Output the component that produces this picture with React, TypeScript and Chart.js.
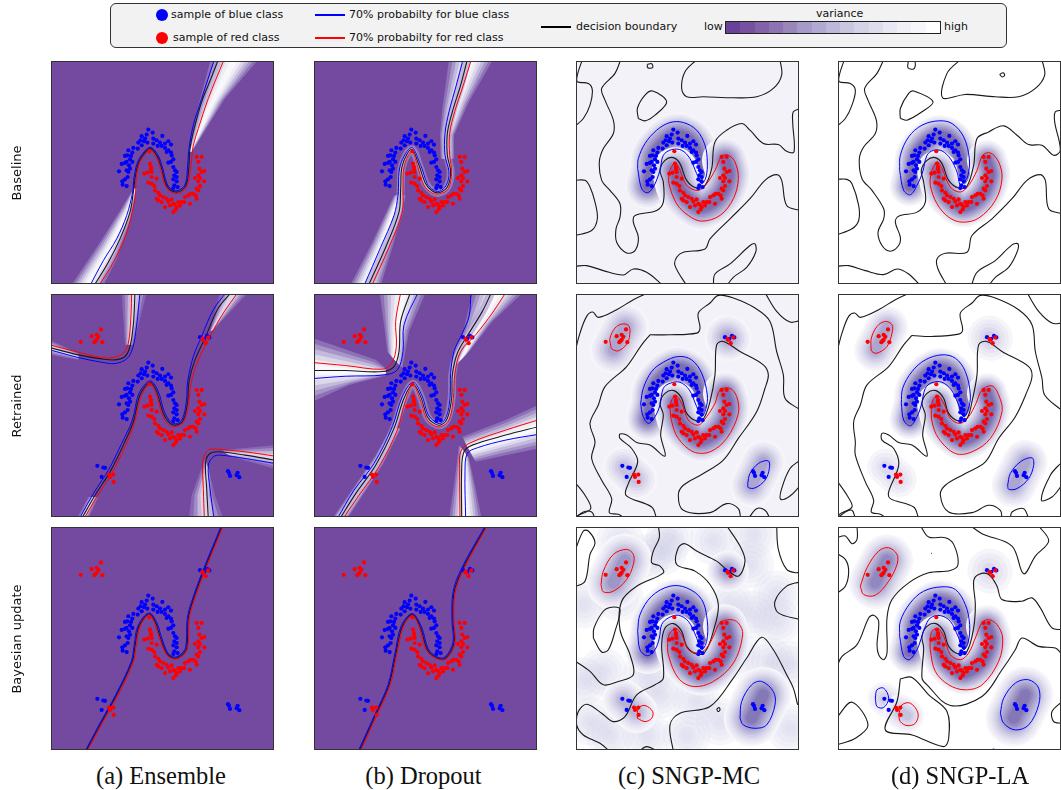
import React, { useEffect, useRef } from "react";
import { Chart, registerables } from "chart.js";

Chart.register(...registerables);

type P = [number, number];

// ---------- samples (plot units) ----------
const blueMoon: P[] = [[310,223],[323,232],[305,238],[290,243],[300,250],[325,250],[352,242],[335,255],[345,262],[287,255],[280,262],[297,258],[307,262],[290,270],[278,280],[265,278],[250,285],[262,292],[247,300],[258,302],[240,302],[255,312],[245,320],[230,326],[240,323],[252,330],[262,320],[255,340],[245,345],[222,348],[250,350],[240,372],[232,378],[233,388],[245,392],[248,365],[370,258],[378,268],[360,265],[350,272],[338,272],[325,265],[360,278],[365,290],[378,292],[370,285],[380,300],[385,312],[378,320],[370,322],[385,335],[390,345],[395,350],[388,360],[395,365],[385,372],[395,378],[388,390],[385,398],[398,395]];
const redMoon: P[] = [[455,305],[470,305],[460,320],[478,347],[470,350],[463,340],[460,360],[450,368],[465,368],[478,378],[460,378],[465,392],[455,400],[460,405],[445,415],[437,415],[452,420],[430,420],[455,430],[420,425],[435,445],[418,440],[410,440],[400,440],[395,455],[405,450],[390,448],[380,432],[385,445],[370,438],[375,450],[360,455],[385,470],[392,462],[350,440],[340,435],[345,420],[355,425],[335,430],[365,430],[340,412],[330,405],[320,385],[328,392],[310,382],[335,370],[320,365],[308,352],[298,355],[320,350],[318,342],[315,325],[318,335],[313,288]];
const blueExtra: P[] = [[465,147],[486,143],[478,152],[493,148],[157,532],[175,537],[180,538],[170,565],[549,548],[552,553],[555,562],[575,560],[578,553],[583,566]];
const redExtra: P[] = [[107,161],[140,144],[155,140],[168,124],[160,146],[172,162],[152,158],[148,162],[155,155],[474,155],[482,165],[490,148],[472,152],[192,558],[195,565],[205,558],[206,580]];

// ---------- Ensemble, baseline ----------
const r1c1Black: P[] = [[147,690],[190,620],[225,550],[255,470],[265,410],[270,370],[278,330],[290,305],[315,280],[335,300],[350,340],[362,385],[375,403],[392,410],[410,405],[425,385],[432,330],[435,280],[445,230],[470,140],[498,70],[520,14]];
const r1c1Blue: P[] = [[135,690],[175,615],[215,550],[245,480],[263,410],[267,368],[275,328],[288,302],[315,276],[338,298],[353,338],[365,383],[377,400],[392,406],[408,401],[422,383],[428,330],[432,280],[445,210],[470,130],[508,14]];
const r1c1Red: P[] = [[162,690],[205,620],[240,545],[262,470],[272,410],[273,372],[281,332],[292,308],[315,284],[332,302],[347,342],[359,388],[373,407],[392,414],[412,409],[428,388],[438,330],[445,270],[460,220],[490,130],[537,14]];
const r1c1FanA: P[][] = [[[78,690],[165,560],[235,450],[265,400]], [[432,290],[455,170],[497,14]]];
const r1c1FanB: P[][] = [[[175,690],[215,610],[255,500],[275,400]], [[440,290],[540,130],[640,14]]];

// ---------- Dropout, baseline ----------
const r1c2Black: P[] = [[181,690],[233,575],[273,470],[278,400],[283,330],[311,282],[333,330],[353,385],[373,407],[393,412],[418,395],[428,350],[418,300],[418,235],[433,170],[458,90],[478,14]];
const r1c2Blue: P[] = [[168,690],[218,575],[258,480],[270,420],[277,330],[311,277],[338,330],[358,385],[375,403],[393,408],[415,390],[423,350],[411,300],[411,235],[423,170],[445,90],[465,14]];
const r1c2Red: P[] = [[191,690],[243,575],[283,470],[285,400],[288,335],[311,288],[328,330],[348,390],[371,412],[393,416],[421,400],[431,350],[425,300],[425,235],[440,170],[466,90],[490,14]];
const r1c2FanA: P[][] = [[[126,690],[193,560],[258,420]], [[423,14],[403,160],[396,240],[398,310]]];
const r1c2FanB: P[][] = [[[218,690],[258,560],[293,420]], [[555,14],[483,140],[438,240],[438,310]]];

// ---------- Ensemble, retrained ----------
const r2c1Black: P[][] = [
  [[110,690],[150,620],[195,550],[235,470],[265,400],[285,320],[315,283],[335,310],[355,375],[375,405],[395,410],[415,395],[428,340],[432,280],[450,215],[480,150],[520,60],[558,14]],
  [[14,178],[100,200],[170,212],[210,215],[240,205],[255,175],[265,110],[270,14]],
  [[690,515],[600,500],[520,490],[495,495],[482,520],[485,600],[490,690]],
];
const r2c1Blue: P[][] = [
  [[103,690],[145,615],[190,545],[230,465],[262,395],[282,315],[315,278],[338,305],[358,370],[378,402],[395,406],[412,392],[424,340],[428,280],[445,205],[470,145],[505,65],[543,14]],
  [[14,185],[100,208],[170,222],[210,226],[245,212],[263,180],[275,110],[285,14]],
  [[690,525],[600,510],[525,500],[505,505],[490,530],[495,600],[507,690]],
];
const r2c1Red: P[][] = [
  [[117,690],[155,625],[200,555],[240,475],[268,405],[288,325],[315,288],[333,315],[352,380],[372,410],[395,414],[418,398],[432,340],[438,285],[460,215],[495,145],[535,75],[578,14]],
  [[14,170],[100,192],[170,208],[205,208],[235,195],[250,165],[258,80],[260,14]],
  [[690,503],[600,490],[510,482],[490,485],[474,515],[475,600],[478,690]],
];
const r2c1FanA: P[][] = [[[230,14],[240,170]], [[14,155],[100,195]], [[480,510],[440,620],[432,690]], [[688,470],[530,485]], [[495,130],[525,14]], [[95,690],[130,625]]];
const r2c1FanB: P[][] = [[[305,14],[265,170]], [[14,200],[100,215]], [[495,560],[510,620],[535,690]], [[688,540],[560,505]], [[505,125],[610,14]], [[130,690],[160,625]]];

// ---------- Dropout, retrained ----------
const r2c2Black: P[][] = [
  [[96,690],[143,615],[203,530],[258,420],[288,330],[315,287],[338,325],[358,385],[378,405],[398,410],[418,390],[431,330],[433,260],[448,195],[483,135],[523,70],[550,14]],
  [[14,247],[113,247],[223,250],[258,235],[273,190],[278,100],[307,14]],
  [[690,415],[593,440],[493,470],[468,490],[461,540],[461,690]],
];
const r2c2Blue: P[][] = [
  [[88,690],[138,605],[198,525],[253,415],[283,325],[315,282],[341,320],[361,380],[381,400],[398,405],[415,385],[426,330],[428,255],[438,190],[463,135],[483,85],[489,14]],
  [[14,271],[113,264],[228,260],[268,245],[285,190],[288,110],[330,14]],
  [[690,438],[593,455],[508,478],[478,495],[471,550],[473,690]],
];
const r2c2Red: P[][] = [
  [[105,690],[153,620],[213,535],[268,425],[293,335],[315,292],[335,330],[355,390],[375,410],[398,415],[423,395],[436,330],[440,260],[458,190],[503,140],[553,75],[593,14]],
  [[14,223],[113,232],[223,243],[251,225],[265,175],[263,100],[278,14]],
  [[690,395],[593,425],[483,465],[458,490],[455,540],[456,690]],
];
const r2c2FanA: P[][] = [[[215,14],[228,110],[238,190]], [[14,150],[203,215],[233,240]], [[423,690],[438,590],[453,470]], [[690,350],[593,395],[463,445]], [[433,240],[463,140],[493,14]], [[73,690],[203,500],[248,420]]];
const r2c2FanB: P[][] = [[[353,14],[303,130],[283,240]], [[14,340],[123,290],[233,262]], [[521,690],[503,600],[483,510]], [[690,480],[593,500],[503,520]], [[483,190],[553,100],[645,14]], [[118,690],[223,530],[278,420]]];

// ---------- Bayesian update, Ensemble and Dropout ----------
const r3c1Black: P[] = [[122,690],[165,610],[215,520],[262,420],[270,375],[282,315],[312,278],[332,305],[345,345],[365,395],[385,410],[405,405],[425,380],[430,290],[450,220],[480,140],[532,14]];
const r3c1Blue: P[] = [[120,690],[162,610],[212,520],[259,420],[267,375],[279,313],[312,275],[335,303],[348,343],[367,392],[385,407],[403,402],[422,378],[427,290],[447,220],[477,140],[529,14]];
const r3c1Red: P[] = [[126,690],[168,612],[219,522],[265,422],[273,377],[285,317],[312,281],[329,307],[342,347],[363,398],[385,413],[407,408],[428,382],[433,290],[453,222],[483,142],[535,14]];
const r3c2Black: P[] = [[153,690],[203,580],[243,490],[263,400],[283,315],[313,280],[338,320],[358,385],[388,410],[413,410],[438,365],[435,300],[438,215],[463,145],[535,14]];
const r3c2Blue: P[] = [[150,690],[200,580],[240,490],[260,400],[280,313],[313,277],[341,318],[361,383],[388,407],[411,407],[435,363],[432,300],[435,213],[460,143],[532,14]];
const r3c2Red: P[] = [[157,690],[206,582],[246,492],[266,402],[286,317],[313,283],[335,322],[355,387],[388,413],[415,413],[441,367],[438,300],[441,217],[466,147],[538,14]];

// ---------- SNGP-MC, baseline ----------
const r1c3Black: P[][] = [
  [[37,14],[22,60],[22,80],[55,85],[67,105],[60,150],[40,190],[14,214]],
  [[152,14],[135,55],[95,100],[105,135],[130,195],[130,235],[100,280],[88,320],[95,375],[120,405],[150,445],[150,485],[138,520],[140,560],[170,592],[195,585],[205,545],[190,500],[195,480],[260,465],[280,440],[280,380],[270,345],[285,315],[310,307],[330,325],[350,375],[380,398],[405,390],[425,340],[435,260],[470,225],[515,205],[540,225],[580,265],[625,268],[650,288],[672,290],[668,200],[670,170],[690,160]],
  [[14,375],[45,375],[60,395],[75,440],[82,490],[65,525],[14,540]],
  [[205,190],[202,160],[225,120],[248,108],[290,140],[255,180],[225,197],[205,190]],
  [[380,14],[345,50],[335,100],[350,125],[400,125],[490,128],[560,125],[610,100],[635,60],[630,14]],
  [[690,465],[650,450],[635,375],[620,358],[585,375],[540,430],[480,490],[420,550],[405,580],[340,590],[320,605],[315,630],[350,690]],
  [[430,690],[435,655],[480,625],[540,570],[555,565],[557,590],[530,635],[490,665],[470,690]],
  [[14,632],[50,630],[100,645],[160,658],[190,640],[230,650],[280,690]],
  [[232,28],[245,26],[248,38],[233,38],[232,28]],
];
const r1c3Blue: P[] = [[203,340],[205,310],[225,265],[260,225],[300,202],[340,202],[380,225],[405,270],[412,320],[408,365],[395,385],[380,355],[360,310],[335,285],[305,283],[280,300],[270,345],[250,395],[232,412],[215,400],[203,340]];
const r1c3Red: P[] = [[297,350],[297,385],[320,445],[355,480],[395,497],[450,480],[490,430],[505,370],[495,320],[475,300],[455,303],[435,345],[410,385],[385,405],[350,390],[330,345],[315,322],[297,350]];

// ---------- SNGP-LA, baseline ----------
const r1c4Black: P[][] = [
  [[37,14],[22,60],[22,80],[55,85],[70,105],[60,150],[40,190],[14,214]],
  [[155,14],[135,55],[98,100],[108,135],[133,195],[130,235],[95,275],[82,310],[90,370],[120,405],[155,460],[155,490],[138,530],[150,570],[175,587],[200,570],[205,545],[190,500],[200,482],[255,470],[280,440],[275,380],[268,345],[285,315],[310,307],[330,325],[350,375],[380,398],[405,392],[425,330],[435,250],[470,230],[515,212],[555,240],[590,268],[630,270],[665,300],[685,285],[668,200],[670,170],[690,165]],
  [[14,372],[45,372],[60,385],[80,450],[80,495],[60,520],[14,538]],
  [[205,190],[205,160],[230,115],[245,108],[303,140],[270,170],[225,195],[205,190]],
  [[385,14],[345,55],[332,128],[400,118],[490,125],[560,125],[610,100],[638,60],[630,14]],
  [[690,475],[650,460],[640,375],[625,358],[585,375],[540,430],[480,490],[420,540],[405,590],[340,593],[315,610],[318,640],[345,690]],
  [[418,690],[435,650],[490,615],[540,568],[558,565],[555,590],[530,635],[490,665],[470,690]],
  [[14,632],[50,630],[100,645],[155,657],[195,640],[230,655],[265,690]],
  [[230,14],[228,38],[245,42],[250,30],[248,14]],
  [[503,58],[513,53],[518,60],[511,66],[503,58]],
];
const r1c4Blue: P[] = [[203,345],[205,300],[230,245],[270,210],[320,197],[360,205],[395,245],[412,310],[408,360],[398,378],[385,390],[375,350],[355,310],[330,287],[305,285],[285,300],[272,350],[255,390],[235,418],[215,405],[203,345]];
const r1c4Red: P[] = [[297,350],[295,390],[315,445],[350,485],[390,500],[440,488],[490,435],[510,370],[500,320],[475,293],[452,300],[435,345],[410,390],[385,410],[355,395],[330,340],[315,320],[297,350]];

// ---------- SNGP-MC, retrained ----------
const r2c3Black: P[][] = [
  [[14,195],[30,135],[50,85],[68,72],[85,88],[140,65],[190,35],[235,14]],
  [[14,580],[45,620],[62,660],[25,680],[14,690]],
  [[240,140],[215,170],[170,235],[105,295],[85,350],[60,405],[75,460],[65,510],[95,575],[125,630],[118,672],[145,677],[165,690]],
  [[240,140],[300,140],[380,135],[390,120],[385,75],[420,45],[445,22],[490,30],[555,60],[600,100],[620,190],[640,260],[645,330],[690,364]],
  [[585,14],[620,70],[660,102],[690,98]],
  [[260,690],[245,655],[168,620],[175,585],[203,520],[185,480],[150,450],[150,437],[170,440],[200,462],[240,470],[285,503],[272,440],[280,380],[270,345],[285,315],[312,307],[335,330],[350,375],[380,398],[400,392],[420,340],[435,260],[440,170],[460,160],[510,190],[580,230],[595,260],[585,300],[560,370],[505,450],[460,515],[400,555],[340,590],[325,620],[340,665],[420,672],[470,645],[505,660],[512,690]],
  [[690,515],[660,540],[635,600],[632,632],[660,622],[690,592]],
  [[535,690],[560,660],[585,665],[600,690]],
  [[14,690],[40,670],[65,670],[75,690]],
];
const r2c3Blue: P[][] = [
  [[212,345],[220,300],[245,250],[280,222],[325,205],[365,215],[395,255],[412,320],[408,360],[395,385],[378,350],[358,305],[330,282],[300,285],[280,300],[270,350],[255,385],[235,405],[218,380],[212,345]],
  [[533,585],[540,555],[565,525],[595,517],[598,540],[585,575],[555,598],[535,597],[533,585]],
];
const r2c3Red: P[][] = [
  [[300,360],[305,400],[325,450],[370,490],[420,490],[470,450],[505,375],[500,325],[480,300],[450,305],[435,345],[410,385],[385,410],[355,395],[335,345],[318,322],[305,335],[300,360]],
  [[122,172],[120,150],[135,120],[155,108],[175,112],[180,130],[172,165],[145,188],[125,182],[122,172]],
];

// ---------- SNGP-LA, retrained ----------
const r2c4Black: P[][] = [
  [[14,195],[30,135],[50,85],[68,75],[85,88],[140,65],[190,35],[235,14]],
  [[14,575],[45,620],[60,655],[25,675],[14,690]],
  [[240,142],[215,170],[170,235],[105,290],[85,350],[65,400],[70,460],[70,500],[100,580],[125,635],[118,670],[145,677],[165,690]],
  [[240,142],[300,145],[380,138],[392,125],[385,75],[420,45],[445,22],[490,30],[560,65],[600,110],[610,190],[630,270],[638,320],[690,367]],
  [[585,14],[620,70],[660,105],[690,105]],
  [[260,690],[245,655],[175,630],[170,610],[200,530],[185,480],[150,455],[150,435],[170,440],[200,462],[240,470],[285,503],[272,440],[280,380],[270,345],[285,315],[312,307],[335,330],[350,375],[380,398],[405,390],[420,340],[435,260],[440,170],[465,160],[510,190],[590,235],[600,265],[585,310],[550,385],[500,450],[460,520],[400,555],[340,590],[325,620],[350,670],[420,672],[470,650],[505,665],[510,690]],
  [[590,690],[575,660],[540,670],[535,690]],
  [[690,520],[655,560],[628,635],[660,625],[690,590]],
  [[14,690],[40,670],[60,665],[70,690]],
];
const r2c4Blue: P[][] = [
  [[208,345],[212,300],[240,250],[280,215],[330,200],[370,210],[400,250],[415,320],[408,365],[395,385],[378,345],[358,305],[330,282],[300,283],[280,300],[268,350],[255,385],[235,412],[215,395],[208,345]],
  [[527,590],[535,555],[565,520],[600,508],[605,530],[590,570],[555,600],[530,602],[527,590]],
];
const r2c4Red: P[][] = [
  [[298,360],[300,400],[320,450],[370,495],[420,490],[475,450],[510,370],[500,320],[480,293],[450,305],[432,345],[410,385],[385,405],[355,390],[335,345],[318,322],[303,335],[298,360]],
  [[117,180],[118,150],[135,115],[160,100],[180,110],[180,135],[165,175],[135,195],[120,190],[117,180]],
];

// ---------- SNGP-MC, Bayesian update ----------
const r3c3Black: P[][] = [
  [[14,92],[40,30],[55,30],[75,65],[60,100],[45,180],[14,197]],
  [[14,418],[60,450],[100,490],[145,480],[190,460],[180,400],[150,325],[155,240],[200,195],[280,155],[270,135],[245,125],[250,90],[268,50],[265,14]],
  [[70,350],[72,320],[100,270],[125,258],[150,265],[135,330],[115,385],[95,392],[70,350]],
  [[120,690],[90,665],[40,640],[20,610],[25,570],[50,548],[95,575],[130,600],[165,585],[200,520],[255,490],[280,470],[275,370],[285,320],[310,307],[335,330],[350,375],[380,398],[405,392],[430,330],[445,250],[420,190],[375,150],[320,130],[325,80],[345,68],[380,90],[440,120],[470,145],[505,165],[525,120],[510,75],[470,14]],
  [[310,690],[300,610],[330,575],[420,555],[490,470],[530,410],[575,348],[610,385],[650,460],[670,500],[683,550]],
  [[205,690],[230,675],[265,690]],
  [[620,14],[625,85],[650,145],[680,155],[690,150]],
  [[690,182],[650,195],[615,240],[625,275],[690,295]],
  [[440,563],[447,558],[450,565],[444,570],[440,563]],
];
const r3c3Blue: P[][] = [
  [[203,330],[210,280],[245,225],[300,195],[350,200],[395,235],[412,300],[410,360],[395,385],[378,345],[355,300],[325,282],[295,290],[275,310],[268,350],[255,385],[232,403],[210,385],[203,330]],
  [[510,590],[515,540],[545,490],[575,480],[610,510],[615,550],[590,610],[555,620],[520,610],[510,590]],
];
const r3c3Red: P[][] = [
  [[293,355],[295,400],[325,470],[370,495],[430,480],[490,425],[518,340],[505,305],[480,295],[450,305],[430,345],[410,380],[385,395],[355,385],[335,340],[318,322],[300,335],[293,355]],
  [[93,190],[100,150],[130,100],[170,85],[190,100],[190,130],[170,175],[130,210],[100,212],[93,190]],
  [[202,590],[205,560],[225,552],[248,570],[245,590],[225,600],[202,590]],
];
const r3c3Spots: P[] = [[150,60],[40,250],[280,90],[430,60],[550,40],[620,220],[600,420],[660,430],[100,450],[230,460],[270,520],[380,540],[450,600],[350,640],[120,640],[60,600],[500,400],[550,280],[150,230],[230,640],[660,620],[300,50],[480,250],[230,110],[540,130],[40,480],[620,300]];

// ---------- SNGP-LA, Bayesian update ----------
const r3c4Black: P[][] = [
  [[14,50],[40,45],[60,68],[75,55],[75,14]],
  [[14,97],[40,115],[50,150],[40,195],[14,217]],
  [[265,14],[290,48],[340,50],[365,70],[378,130],[355,148],[290,155],[230,185],[180,235],[165,290],[165,395],[155,415],[140,400],[135,370],[140,300],[125,282],[110,290],[75,370],[30,405],[14,437]],
  [[687,395],[670,380],[620,375],[570,350],[550,385],[510,445],[450,525],[355,552],[285,490],[270,470],[275,380],[270,345],[285,315],[312,307],[335,330],[350,375],[380,398],[405,390],[425,320],[430,250],[425,180],[440,160],[470,160],[495,195],[510,235],[570,240],[600,230],[625,260],[660,320],[690,325]],
  [[415,14],[450,38],[540,75],[575,158],[610,105],[650,60],[620,14]],
  [[14,588],[60,542],[108,610],[70,650],[14,670]],
  [[205,472],[240,468],[290,520],[345,570],[350,650],[335,675],[240,640],[160,625],[195,540],[205,472]],
  [[470,690],[485,682],[495,690]],
  [[690,540],[660,570],[665,600],[690,605]],
  [[297,97],[299,97]],
];
const r3c4Blue: P[][] = [
  [[203,345],[205,300],[235,245],[275,210],[330,197],[370,205],[400,250],[413,310],[408,365],[395,385],[378,345],[355,300],[325,283],[295,290],[278,320],[268,350],[255,385],[232,415],[215,405],[203,345]],
  [[130,530],[135,505],[155,500],[170,530],[155,558],[135,555],[130,530]],
  [[505,575],[515,530],[550,485],[590,475],[620,500],[620,550],[590,610],[550,625],[515,605],[505,575]],
];
const r3c4Red: P[][] = [
  [[295,350],[295,385],[310,450],[350,490],[400,505],[450,490],[500,420],[512,350],[495,310],[470,295],[450,305],[432,345],[410,395],[385,415],[355,400],[335,345],[318,322],[300,330],[295,350]],
  [[85,195],[105,140],[140,90],[170,80],[195,100],[195,130],[170,180],[130,222],[95,220],[85,195]],
  [[200,580],[210,550],[235,545],[258,575],[250,605],[225,612],[205,600],[200,580]],
];

// ---------- variance ridges ----------
const blueRidge: P[] = [[233,392],[245,345],[252,300],[290,255],[325,240],[365,262],[388,320],[393,372]];
const redRidge: P[] = [[315,345],[330,400],[370,445],[400,455],[450,420],[475,360],[465,315]];
const gapRidge: P[] = [[272,385],[278,335],[310,296],[338,340],[360,390],[390,406],[420,375],[430,320]];
const ridgeUL: P[] = [[130,185],[165,118]];
const ridgeUR: P[] = [[472,148],[476,152]];
const ridgeLLBlue: P[] = [[155,530],[165,540]];
const ridgeLLRed: P[] = [[205,570],[225,582]];
const ridgeLL: P[] = [[160,535],[200,572]];
const ridgeLR: P[] = [[545,590],[580,520]];

const rowLabels = ["Baseline", "Retrained", "Bayesian update"];
const columnLabels = ["(a) Ensemble", "(b) Dropout", "(c) SNGP-MC", "(d) SNGP-LA"];
const columnLabelX = [161, 423.5, 689, 960];
const colorbar = ["#6a4199","#77519f","#8262a9","#8d73b1","#9a86bb","#a59ac8","#b1a9d1","#bdb8d9","#c9c6e0","#d5d3e8","#dedded","#e8e8f2","#f0f0f6","#f7f7fb","#ffffff"];

const PURPLE = "#734aa0";
const LAVENDER = "#f3f2f9";
const bandColors = ["#f5f5fa","#eeedf6","#e6e5f1","#dcdaec","#d1cfe6","#c5c2df","#b8b3d7","#aba5cf","#9e96c7","#9188bf","#8578b6","#7d6dae"];
const fanStrong = ["rgba(150,125,190,.75)","#a796c8","#c2b9dc","#dcd8ea","#eeecf5","#f8f8fb"];
const fanSoft = ["rgba(150,125,190,.6)","rgba(175,155,205,.7)","rgba(205,195,225,.8)","rgba(225,220,238,.85)"];

type Glow = { path: P[]; width: number; depth: number };
type Panel = {
  bg: string; black: P[][]; blue: P[][]; red: P[][]; extras: boolean;
  fanA?: P[][]; fanB?: P[][]; fanColors?: string[]; halo?: P[][]; glows?: Glow[]; spots?: P[];
};

const moons = (w: number, d: number): Glow[] => [
  { path: gapRidge, width: 16, depth: 6 },
  { path: blueRidge, width: w, depth: d },
  { path: redRidge, width: w, depth: d },
];

const panels: Panel[] = [
  { bg: PURPLE, black: [r1c1Black], blue: [r1c1Blue], red: [r1c1Red], extras: false, fanA: r1c1FanA, fanB: r1c1FanB, fanColors: fanStrong },
  { bg: PURPLE, black: [r1c2Black], blue: [r1c2Blue], red: [r1c2Red], extras: false, fanA: r1c2FanA, fanB: r1c2FanB, fanColors: fanStrong, halo: [r1c2Black] },
  { bg: LAVENDER, black: r1c3Black, blue: [r1c3Blue], red: [r1c3Red], extras: false, glows: moons(46, 12) },
  { bg: "#ffffff", black: r1c4Black, blue: [r1c4Blue], red: [r1c4Red], extras: false, glows: moons(40, 12) },
  { bg: PURPLE, black: r2c1Black, blue: r2c1Blue, red: r2c1Red, extras: true, fanA: r2c1FanA, fanB: r2c1FanB, fanColors: fanSoft },
  { bg: PURPLE, black: r2c2Black, blue: r2c2Blue, red: r2c2Red, extras: true, fanA: r2c2FanA, fanB: r2c2FanB, fanColors: fanStrong, halo: [r2c2Black[0]] },
  { bg: LAVENDER, black: r2c3Black, blue: r2c3Blue, red: r2c3Red, extras: true, glows: [...moons(44, 12), { path: ridgeUL, width: 48, depth: 8 }, { path: ridgeUR, width: 46, depth: 8 }, { path: ridgeLL, width: 42, depth: 6 }, { path: ridgeLR, width: 44, depth: 8 }] },
  { bg: "#ffffff", black: r2c4Black, blue: r2c4Blue, red: r2c4Red, extras: true, glows: [...moons(40, 12), { path: ridgeUL, width: 42, depth: 8 }, { path: ridgeUR, width: 44, depth: 5 }, { path: ridgeLL, width: 36, depth: 4 }, { path: ridgeLR, width: 44, depth: 8 }] },
  { bg: PURPLE, black: [r3c1Black], blue: [r3c1Blue], red: [r3c1Red], extras: true },
  { bg: PURPLE, black: [r3c2Black], blue: [r3c2Blue], red: [r3c2Red], extras: true },
  { bg: "#ffffff", black: r3c3Black, blue: r3c3Blue, red: r3c3Red, extras: true, spots: r3c3Spots, glows: [...moons(44, 12), { path: ridgeUL, width: 54, depth: 9 }, { path: ridgeUR, width: 40, depth: 9 }, { path: ridgeLL, width: 42, depth: 7 }, { path: ridgeLR, width: 56, depth: 11 }] },
  { bg: "#ffffff", black: r3c4Black, blue: r3c4Blue, red: r3c4Red, extras: true, glows: [...moons(42, 12), { path: ridgeUL, width: 52, depth: 10 }, { path: ridgeUR, width: 44, depth: 4 }, { path: ridgeLLBlue, width: 32, depth: 5 }, { path: ridgeLLRed, width: 34, depth: 6 }, { path: ridgeLR, width: 56, depth: 11 }] },
];

const xy = (p: P[]) => p.map(([x, y]) => ({ x, y }));
const line = (p: P[], color: string, width: number, extra: object = {}) => ({
  data: xy(p), showLine: true, borderColor: color, borderWidth: width, pointRadius: 0, tension: 0.35, fill: false, ...extra,
});
const dots = (p: P[], color: string, radius = 2.1) => ({
  data: xy(p), showLine: false, pointRadius: radius, pointBackgroundColor: color, pointBorderWidth: 0,
});

function fanDatasets(a: P[], b: P[], colors: string[]) {
  const n = colors.length;
  return colors.map((color, i) => {
    const f = 1 - i / n;
    const side = (q: P[]) => q.map((pt, k): P => {
      const cx = (a[k][0] + b[k][0]) / 2;
      const cy = (a[k][1] + b[k][1]) / 2;
      return [cx + (pt[0] - cx) * f, cy + (pt[1] - cy) * f];
    });
    const A = side(a);
    const B = side(b).reverse();
    return { data: xy([...A, ...B, A[0]]), showLine: true, borderWidth: 0, pointRadius: 0, fill: "shape", backgroundColor: color, tension: 0 };
  });
}

function glowDatasets(g: Glow) {
  const out: object[] = [];
  for (let i = 0; i < g.depth; i++) {
    out.push(line(g.path, bandColors[i], g.width * (1 - (i / g.depth) * 0.88), { borderCapStyle: "round", borderJoinStyle: "round" }));
  }
  return out;
}

function buildDatasets(p: Panel) {
  const ds: object[] = [];
  if (p.spots) {
    [24, 19, 14, 9, 5].forEach((r) => ds.push(dots(p.spots!, "rgba(205,205,230,.16)", r)));
  }
  if (p.fanA && p.fanB) p.fanA.forEach((a, i) => ds.push(...fanDatasets(a, p.fanB![i], p.fanColors!)));
  (p.halo || []).forEach((h) => {
    ds.push(line(h, "rgba(170,150,205,.6)", 8));
    ds.push(line(h, "#c4bce0", 4));
  });
  (p.glows || []).forEach((g) => ds.push(...glowDatasets(g)));
  p.black.forEach((c) => ds.push(line(c, "#1a1a1a", 1.1)));
  p.blue.forEach((c) => ds.push(line(c, "#0000ff", 1)));
  p.red.forEach((c) => ds.push(line(c, "#ff0000", 1)));
  ds.push(dots(blueMoon, "#0000ff"));
  ds.push(dots(redMoon, "#ff0000"));
  if (p.extras) {
    ds.push(dots(blueExtra, "#0000ff"));
    ds.push(dots(redExtra, "#ff0000"));
  }
  return ds.reverse(); // Chart.js paints the first dataset last
}

const colX = [51, 313.5, 576, 838];
const rowY = [61, 294, 527];
const SIZE = 223;

function PanelChart({ panel, left, top }: { panel: Panel; left: number; top: number }) {
  const ref = useRef<HTMLCanvasElement>(null);
  useEffect(() => {
    const chart = new Chart(ref.current!, {
      type: "scatter",
      data: { datasets: buildDatasets(panel) as any },
      options: {
        animation: false, responsive: false, events: [],
        layout: { padding: 0, autoPadding: false },
        plugins: { legend: { display: false }, tooltip: { enabled: false } },
        scales: {
          x: { type: "linear", min: 18, max: 687, display: false },
          y: { type: "linear", min: 18, max: 685, reverse: true, display: false },
        },
      },
    });
    return () => chart.destroy();
  }, [panel]);
  return (
    <div style={{ position: "absolute", left, top, width: SIZE, height: SIZE, background: panel.bg, outline: "1.3px solid #333", outlineOffset: -1 }}>
      <canvas ref={ref} width={SIZE} height={SIZE} style={{ display: "block", width: SIZE, height: SIZE }} />
    </div>
  );
}

const sans = "'DejaVu Sans', sans-serif";
const legendText: React.CSSProperties = { position: "absolute", fontFamily: sans, fontSize: 11, lineHeight: "14px", color: "#111", whiteSpace: "nowrap" };

function Legend() {
  return (
    <div style={{ position: "absolute", left: 110, top: 3, width: 897, height: 45, boxSizing: "border-box", background: "#f2f2f2", border: "1.3px solid #333", borderRadius: 6 }}>
      {[["#0000ff", 11, "sample of blue class", 60], ["#ff0000", 34, "sample of red class", 62]].map(([c, y, t, x]) => (
        <React.Fragment key={String(t)}>
          <div style={{ position: "absolute", left: 45, top: (y as number) - 6, width: 12, height: 12, borderRadius: "50%", background: c as string }} />
          <div style={{ ...legendText, left: x as number, top: (y as number) - 7 }}>{t}</div>
        </React.Fragment>
      ))}
      {[["#0000ff", 10, "70% probabilty for blue class"], ["#ff0000", 33, "70% probabilty for red class"]].map(([c, y, t]) => (
        <React.Fragment key={String(t)}>
          <div style={{ position: "absolute", left: 204, top: y as number, width: 30, height: 2, background: c as string }} />
          <div style={{ ...legendText, left: 238, top: (y as number) - 6 }}>{t}</div>
        </React.Fragment>
      ))}
      <div style={{ position: "absolute", left: 430, top: 22, width: 30, height: 2, background: "#000" }} />
      <div style={{ ...legendText, left: 465, top: 16 }}>decision boundary</div>
      <div style={{ ...legendText, left: 593, top: 16 }}>low</div>
      <div style={{ ...legendText, left: 833, top: 16 }}>high</div>
      <div style={{ ...legendText, left: 705, top: 3 }}>variance</div>
      <div style={{ position: "absolute", left: 614, top: 17, width: 216, height: 13, boxSizing: "border-box", border: "1px solid #222", display: "flex" }}>
        {colorbar.map((c) => <div key={c} style={{ flex: 1, background: c }} />)}
      </div>
    </div>
  );
}

export default function App() {
  return (
    <div style={{ position: "absolute", left: 0, top: 0, width: 1061, height: 790, background: "#fff", overflow: "hidden" }}>
      <Legend />
      {panels.map((p, i) => (
        <PanelChart key={i} panel={p} left={colX[i % 4]} top={rowY[Math.floor(i / 4)]} />
      ))}
      {rowLabels.map((t, i) => (
        <div key={t} style={{ position: "absolute", left: 16, top: rowY[i] + SIZE / 2, transform: "translate(-50%,-50%) rotate(-90deg)", fontFamily: sans, fontSize: 13, whiteSpace: "nowrap", color: "#111" }}>{t}</div>
      ))}
      {columnLabels.map((t, i) => (
        <div key={t} style={{ position: "absolute", left: columnLabelX[i], top: 776, transform: "translate(-50%,-50%)", fontFamily: "'Liberation Serif', serif", fontSize: 24.5, whiteSpace: "nowrap", color: "#111" }}>{t}</div>
      ))}
    </div>
  );
}
